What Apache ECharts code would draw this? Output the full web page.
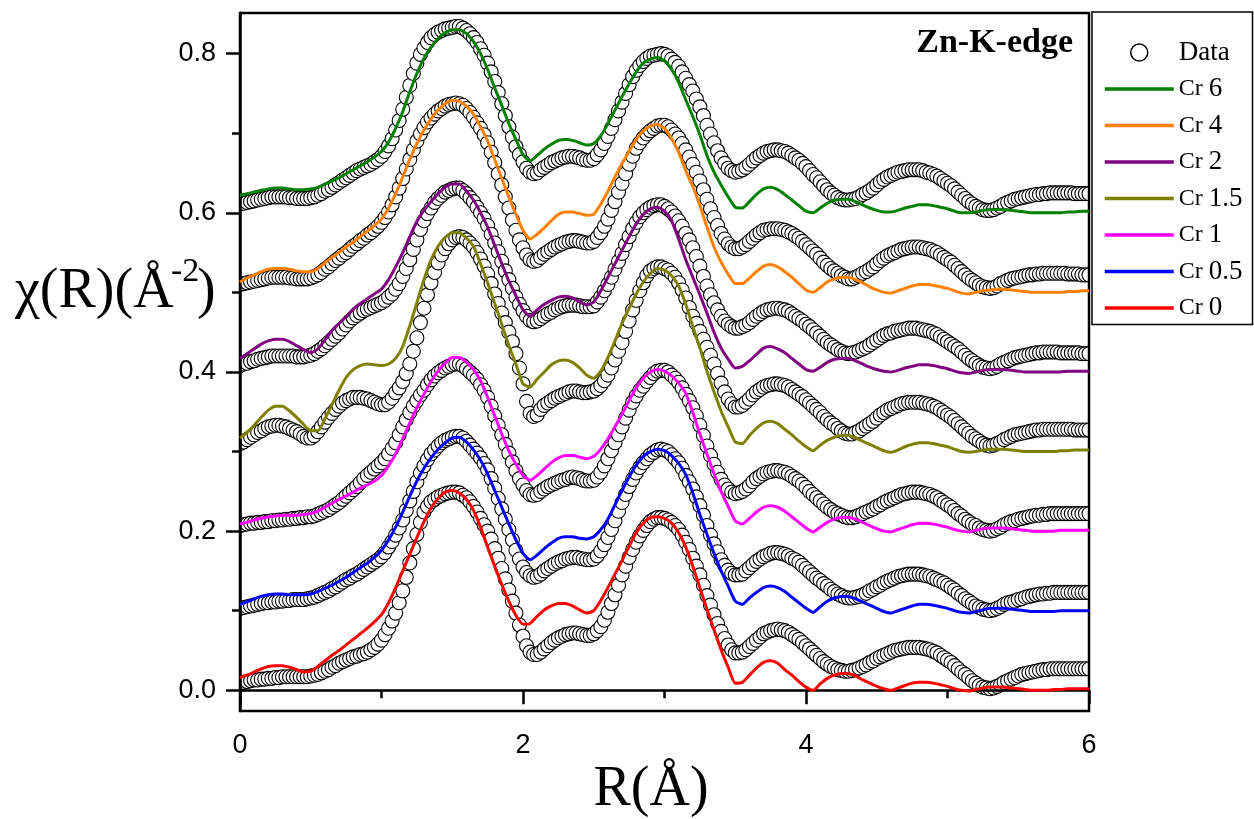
<!DOCTYPE html>
<html>
<head>
<meta charset="utf-8">
<script src="https://cdn.jsdelivr.net/npm/echarts@6/dist/echarts.min.js"></script>
<style>
  html, body { margin: 0; padding: 0; background: #fff; }
  #chart { width: 1254px; height: 819px; }
</style>
</head>
<body>
<div id="chart"></div>
<script>
// R grid of the measured points (Å)
const Rdata = [
  0,0.025,0.05,0.075,0.1,0.125,0.15,0.175,0.2,0.225,0.25,0.275,0.3,0.325,0.35,0.375,0.4,0.425,0.45,0.475,
  0.5,0.525,0.55,0.575,0.6,0.625,0.65,0.675,0.7,0.725,0.75,0.775,0.8,0.825,0.85,0.875,0.9,0.925,0.95,0.975,
  1,1.025,1.05,1.075,1.1,1.125,1.15,1.175,1.2,1.225,1.25,1.275,1.3,1.325,1.35,1.375,1.4,1.425,1.45,1.475,
  1.5,1.525,1.55,1.575,1.6,1.625,1.65,1.675,1.7,1.725,1.75,1.775,1.8,1.825,1.85,1.875,1.9,1.925,1.95,1.975,
  2,2.025,2.05,2.075,2.1,2.125,2.15,2.175,2.2,2.225,2.25,2.275,2.3,2.325,2.35,2.375,2.4,2.425,2.45,2.475,
  2.5,2.525,2.55,2.575,2.6,2.625,2.65,2.675,2.7,2.725,2.75,2.775,2.8,2.825,2.85,2.875,2.9,2.925,2.95,2.975,
  3,3.025,3.05,3.075,3.1,3.125,3.15,3.175,3.2,3.225,3.25,3.275,3.3,3.325,3.35,3.375,3.4,3.425,3.45,3.475,
  3.5,3.525,3.55,3.575,3.6,3.625,3.65,3.675,3.7,3.725,3.75,3.775,3.8,3.825,3.85,3.875,3.9,3.925,3.95,3.975,
  4,4.025,4.05,4.075,4.1,4.125,4.15,4.175,4.2,4.225,4.25,4.275,4.3,4.325,4.35,4.375,4.4,4.425,4.45,4.475,
  4.5,4.525,4.55,4.575,4.6,4.625,4.65,4.675,4.7,4.725,4.75,4.775,4.8,4.825,4.85,4.875,4.9,4.925,4.95,4.975,
  5,5.025,5.05,5.075,5.1,5.125,5.15,5.175,5.2,5.225,5.25,5.275,5.3,5.325,5.35,5.375,5.4,5.425,5.45,5.475,
  5.5,5.525,5.55,5.575,5.6,5.625,5.65,5.675,5.7,5.725,5.75,5.775,5.8,5.825,5.85,5.875,5.9,5.925,5.95,5.975,
  6
];
// R grid of the fit curves (Å)
const Rfit = [
  0,0.05,0.1,0.15,0.2,0.25,0.3,0.35,0.4,0.45,0.5,0.55,0.6,0.65,0.7,0.75,0.8,0.85,0.9,0.95,
  1,1.05,1.1,1.15,1.2,1.25,1.3,1.35,1.4,1.45,1.5,1.55,1.6,1.65,1.7,1.75,1.8,1.85,1.9,1.95,
  2,2.05,2.1,2.15,2.2,2.25,2.3,2.35,2.4,2.45,2.5,2.55,2.6,2.65,2.7,2.75,2.8,2.85,2.9,2.95,
  3,3.05,3.1,3.15,3.2,3.25,3.3,3.35,3.4,3.45,3.5,3.55,3.6,3.65,3.7,3.75,3.8,3.85,3.9,3.95,
  4,4.05,4.1,4.15,4.2,4.25,4.3,4.35,4.4,4.45,4.5,4.55,4.6,4.65,4.7,4.75,4.8,4.85,4.9,4.95,
  5,5.05,5.1,5.15,5.2,5.25,5.3,5.35,5.4,5.45,5.5,5.55,5.6,5.65,5.7,5.75,5.8,5.85,5.9,5.95,
  6
];

// measured data (open circles), stacked with offsets
const dataCr0 = [
  0.010,0.010,0.011,0.012,0.013,0.013,0.014,0.014,0.015,0.015,0.016,0.016,0.017,0.017,0.017,0.017,0.017,0.017,0.017,0.017,
  0.018,0.019,0.020,0.022,0.024,0.026,0.029,0.031,0.034,0.036,0.038,0.040,0.042,0.043,0.045,0.046,0.048,0.051,0.054,0.058,
  0.063,0.070,0.078,0.087,0.097,0.110,0.125,0.142,0.160,0.178,0.196,0.211,0.224,0.231,0.237,0.240,0.243,0.245,0.247,0.248,
  0.249,0.249,0.248,0.245,0.242,0.237,0.231,0.224,0.216,0.208,0.200,0.190,0.178,0.166,0.153,0.140,0.126,0.112,0.097,0.082,
  0.068,0.056,0.048,0.045,0.045,0.048,0.052,0.056,0.060,0.063,0.066,0.068,0.070,0.071,0.072,0.072,0.071,0.070,0.069,0.069,
  0.071,0.075,0.080,0.088,0.098,0.109,0.120,0.132,0.145,0.156,0.167,0.177,0.186,0.194,0.201,0.207,0.212,0.215,0.217,0.217,
  0.216,0.214,0.211,0.207,0.202,0.195,0.186,0.177,0.166,0.156,0.145,0.132,0.119,0.107,0.095,0.084,0.074,0.065,0.057,0.051,
  0.047,0.047,0.048,0.051,0.055,0.059,0.063,0.067,0.071,0.073,0.075,0.076,0.077,0.076,0.075,0.073,0.070,0.067,0.064,0.060,
  0.056,0.052,0.048,0.044,0.040,0.036,0.033,0.030,0.028,0.026,0.025,0.024,0.024,0.025,0.026,0.028,0.030,0.032,0.035,0.037,
  0.040,0.042,0.044,0.046,0.048,0.050,0.051,0.052,0.053,0.054,0.054,0.054,0.054,0.053,0.052,0.051,0.049,0.047,0.044,0.041,
  0.038,0.035,0.031,0.027,0.023,0.020,0.016,0.012,0.009,0.006,0.004,0.003,0.002,0.003,0.005,0.007,0.010,0.012,0.014,0.016,
  0.018,0.020,0.021,0.022,0.023,0.024,0.025,0.026,0.026,0.027,0.027,0.027,0.027,0.027,0.027,0.027,0.027,0.027,0.027,0.027,
  0.027
];
const dataCr05 = [
  0.103,0.104,0.105,0.106,0.107,0.108,0.109,0.110,0.110,0.111,0.111,0.112,0.112,0.113,0.113,0.114,0.114,0.114,0.114,0.115,
  0.116,0.117,0.119,0.121,0.123,0.125,0.128,0.130,0.133,0.136,0.139,0.141,0.144,0.146,0.149,0.152,0.155,0.158,0.161,0.164,
  0.168,0.173,0.180,0.187,0.195,0.204,0.214,0.226,0.238,0.250,0.262,0.273,0.282,0.290,0.297,0.302,0.307,0.311,0.314,0.316,
  0.318,0.319,0.319,0.317,0.313,0.308,0.303,0.298,0.292,0.285,0.277,0.266,0.254,0.241,0.228,0.215,0.202,0.189,0.176,0.165,
  0.155,0.148,0.144,0.142,0.143,0.146,0.150,0.153,0.156,0.159,0.161,0.163,0.165,0.166,0.167,0.167,0.166,0.165,0.164,0.164,
  0.165,0.169,0.175,0.183,0.192,0.202,0.213,0.225,0.236,0.246,0.256,0.265,0.273,0.280,0.286,0.291,0.296,0.299,0.302,0.303,
  0.302,0.300,0.296,0.291,0.286,0.279,0.270,0.262,0.253,0.243,0.232,0.220,0.207,0.195,0.184,0.174,0.164,0.157,0.151,0.147,
  0.145,0.145,0.146,0.150,0.154,0.158,0.162,0.165,0.168,0.170,0.172,0.173,0.173,0.172,0.171,0.169,0.166,0.164,0.161,0.157,
  0.153,0.149,0.145,0.141,0.138,0.134,0.131,0.127,0.124,0.121,0.119,0.117,0.116,0.116,0.117,0.118,0.120,0.122,0.125,0.127,
  0.130,0.132,0.135,0.137,0.139,0.141,0.143,0.144,0.145,0.146,0.146,0.146,0.146,0.145,0.144,0.143,0.141,0.139,0.137,0.135,
  0.132,0.129,0.126,0.122,0.119,0.115,0.112,0.109,0.106,0.104,0.102,0.101,0.100,0.101,0.103,0.105,0.108,0.110,0.111,0.112,
  0.114,0.115,0.117,0.118,0.119,0.120,0.121,0.121,0.122,0.122,0.123,0.123,0.123,0.123,0.123,0.123,0.123,0.123,0.123,0.123,
  0.123
];
const dataCr1 = [
  0.207,0.208,0.209,0.210,0.210,0.211,0.211,0.212,0.212,0.213,0.213,0.214,0.214,0.215,0.215,0.216,0.216,0.217,0.217,0.218,
  0.218,0.219,0.221,0.223,0.225,0.227,0.230,0.233,0.236,0.240,0.244,0.248,0.252,0.256,0.261,0.266,0.270,0.274,0.278,0.282,
  0.286,0.291,0.297,0.304,0.311,0.321,0.331,0.340,0.349,0.357,0.364,0.371,0.377,0.384,0.390,0.395,0.399,0.402,0.405,0.407,
  0.409,0.410,0.410,0.408,0.404,0.400,0.396,0.391,0.384,0.377,0.368,0.357,0.345,0.333,0.321,0.309,0.298,0.287,0.276,0.266,
  0.258,0.251,0.246,0.245,0.246,0.250,0.253,0.256,0.258,0.260,0.262,0.264,0.265,0.267,0.268,0.267,0.266,0.264,0.263,0.263,
  0.264,0.268,0.274,0.282,0.291,0.301,0.311,0.321,0.331,0.342,0.352,0.362,0.370,0.377,0.382,0.388,0.393,0.398,0.401,0.402,
  0.402,0.400,0.396,0.392,0.387,0.380,0.372,0.364,0.355,0.345,0.333,0.320,0.307,0.295,0.284,0.274,0.265,0.258,0.253,0.249,
  0.247,0.248,0.250,0.253,0.257,0.262,0.266,0.269,0.272,0.274,0.275,0.276,0.276,0.275,0.274,0.272,0.269,0.266,0.263,0.259,
  0.255,0.250,0.246,0.242,0.238,0.234,0.230,0.227,0.224,0.222,0.220,0.218,0.217,0.217,0.218,0.220,0.222,0.224,0.226,0.228,
  0.231,0.233,0.236,0.238,0.240,0.242,0.244,0.246,0.247,0.248,0.249,0.249,0.249,0.248,0.247,0.246,0.244,0.242,0.239,0.236,
  0.233,0.230,0.226,0.222,0.219,0.215,0.212,0.209,0.207,0.204,0.202,0.201,0.200,0.201,0.203,0.205,0.208,0.210,0.212,0.213,
  0.215,0.216,0.217,0.218,0.219,0.220,0.220,0.221,0.221,0.222,0.222,0.222,0.222,0.222,0.222,0.222,0.222,0.222,0.222,0.222,
  0.222
];
const dataCr15 = [
  0.310,0.312,0.315,0.318,0.321,0.324,0.326,0.329,0.331,0.332,0.333,0.333,0.332,0.331,0.329,0.327,0.325,0.322,0.319,0.317,
  0.317,0.320,0.325,0.331,0.337,0.343,0.348,0.353,0.357,0.361,0.364,0.366,0.368,0.368,0.368,0.367,0.366,0.364,0.362,0.360,
  0.359,0.359,0.362,0.367,0.374,0.380,0.388,0.398,0.410,0.426,0.443,0.462,0.480,0.497,0.512,0.525,0.537,0.547,0.555,0.561,
  0.566,0.569,0.570,0.569,0.566,0.562,0.557,0.550,0.542,0.533,0.523,0.511,0.498,0.486,0.474,0.462,0.450,0.438,0.423,0.405,
  0.385,0.363,0.348,0.344,0.346,0.353,0.358,0.361,0.364,0.367,0.369,0.371,0.373,0.375,0.376,0.376,0.375,0.374,0.374,0.375,
  0.376,0.379,0.383,0.389,0.396,0.405,0.415,0.426,0.437,0.451,0.464,0.478,0.490,0.502,0.512,0.521,0.527,0.530,0.532,0.532,
  0.530,0.528,0.524,0.519,0.512,0.503,0.493,0.481,0.470,0.461,0.451,0.441,0.431,0.421,0.410,0.398,0.386,0.375,0.366,0.360,
  0.356,0.356,0.358,0.362,0.366,0.371,0.375,0.378,0.381,0.383,0.384,0.385,0.385,0.384,0.383,0.381,0.378,0.375,0.372,0.369,
  0.365,0.361,0.357,0.353,0.349,0.344,0.340,0.336,0.333,0.329,0.326,0.323,0.322,0.322,0.324,0.326,0.329,0.332,0.335,0.338,
  0.342,0.346,0.349,0.352,0.354,0.356,0.358,0.360,0.361,0.362,0.362,0.362,0.362,0.361,0.360,0.359,0.357,0.355,0.352,0.349,
  0.346,0.343,0.339,0.335,0.331,0.327,0.323,0.319,0.316,0.313,0.310,0.308,0.307,0.308,0.310,0.312,0.315,0.317,0.319,0.321,
  0.322,0.323,0.324,0.325,0.326,0.327,0.327,0.328,0.328,0.328,0.328,0.328,0.328,0.328,0.328,0.328,0.327,0.327,0.327,0.327,
  0.327
];
const dataCr2 = [
  0.408,0.410,0.411,0.413,0.414,0.416,0.417,0.418,0.419,0.420,0.420,0.420,0.420,0.420,0.420,0.420,0.419,0.419,0.419,0.420,
  0.421,0.423,0.426,0.429,0.433,0.437,0.441,0.445,0.449,0.454,0.459,0.464,0.468,0.471,0.474,0.477,0.479,0.481,0.483,0.485,
  0.487,0.490,0.494,0.498,0.504,0.511,0.520,0.530,0.541,0.554,0.566,0.579,0.590,0.599,0.606,0.613,0.618,0.622,0.626,0.628,
  0.630,0.631,0.631,0.628,0.624,0.619,0.614,0.607,0.600,0.593,0.584,0.573,0.562,0.551,0.539,0.527,0.516,0.505,0.494,0.485,
  0.477,0.470,0.465,0.463,0.464,0.467,0.470,0.473,0.475,0.478,0.480,0.482,0.483,0.484,0.484,0.484,0.483,0.482,0.482,0.482,
  0.483,0.488,0.494,0.502,0.510,0.519,0.529,0.539,0.549,0.560,0.570,0.580,0.588,0.595,0.600,0.604,0.607,0.609,0.610,0.610,
  0.608,0.605,0.601,0.596,0.590,0.583,0.574,0.566,0.556,0.545,0.533,0.520,0.508,0.497,0.487,0.478,0.470,0.464,0.460,0.457,
  0.455,0.455,0.457,0.459,0.462,0.466,0.470,0.473,0.476,0.478,0.479,0.480,0.480,0.479,0.478,0.476,0.473,0.470,0.467,0.464,
  0.460,0.457,0.453,0.449,0.445,0.441,0.437,0.434,0.431,0.428,0.426,0.424,0.423,0.424,0.425,0.427,0.429,0.431,0.434,0.437,
  0.440,0.443,0.446,0.448,0.449,0.451,0.452,0.453,0.454,0.455,0.455,0.455,0.454,0.453,0.452,0.451,0.449,0.447,0.444,0.441,
  0.438,0.435,0.432,0.429,0.425,0.421,0.417,0.414,0.411,0.408,0.406,0.405,0.404,0.405,0.407,0.410,0.412,0.414,0.416,0.418,
  0.419,0.420,0.421,0.422,0.423,0.424,0.424,0.425,0.425,0.425,0.425,0.425,0.424,0.424,0.424,0.424,0.424,0.424,0.423,0.423,
  0.423
];
const dataCr4 = [
  0.510,0.511,0.512,0.513,0.514,0.515,0.516,0.517,0.518,0.519,0.519,0.519,0.519,0.519,0.518,0.518,0.517,0.517,0.517,0.517,
  0.518,0.520,0.522,0.525,0.529,0.532,0.536,0.540,0.543,0.547,0.550,0.554,0.558,0.561,0.565,0.568,0.572,0.575,0.579,0.583,
  0.588,0.594,0.601,0.610,0.620,0.631,0.643,0.655,0.667,0.679,0.690,0.699,0.707,0.714,0.719,0.724,0.728,0.731,0.734,0.736,
  0.737,0.738,0.737,0.735,0.731,0.726,0.720,0.713,0.706,0.698,0.688,0.676,0.663,0.649,0.635,0.620,0.606,0.591,0.578,0.566,
  0.556,0.547,0.541,0.539,0.540,0.544,0.548,0.551,0.554,0.557,0.559,0.561,0.563,0.564,0.565,0.565,0.564,0.563,0.562,0.562,
  0.564,0.569,0.575,0.583,0.592,0.603,0.614,0.626,0.637,0.649,0.661,0.671,0.681,0.688,0.694,0.699,0.703,0.706,0.709,0.710,
  0.710,0.708,0.704,0.699,0.694,0.687,0.679,0.670,0.661,0.651,0.640,0.629,0.617,0.605,0.594,0.584,0.574,0.567,0.561,0.557,
  0.555,0.555,0.557,0.560,0.564,0.568,0.572,0.575,0.578,0.579,0.580,0.580,0.580,0.579,0.578,0.576,0.574,0.571,0.568,0.564,
  0.560,0.556,0.552,0.548,0.543,0.538,0.534,0.530,0.527,0.524,0.521,0.519,0.517,0.517,0.519,0.521,0.524,0.526,0.529,0.532,
  0.536,0.540,0.543,0.546,0.548,0.550,0.552,0.554,0.555,0.556,0.557,0.557,0.557,0.556,0.555,0.554,0.552,0.550,0.547,0.544,
  0.541,0.538,0.534,0.530,0.526,0.522,0.518,0.515,0.512,0.509,0.507,0.506,0.505,0.506,0.508,0.511,0.513,0.515,0.517,0.518,
  0.519,0.520,0.521,0.522,0.522,0.523,0.523,0.524,0.524,0.524,0.524,0.524,0.524,0.524,0.523,0.523,0.523,0.523,0.522,0.522,
  0.522
];
const dataCr6 = [
  0.611,0.612,0.613,0.614,0.615,0.616,0.617,0.618,0.619,0.620,0.620,0.620,0.620,0.620,0.619,0.619,0.618,0.618,0.618,0.618,
  0.619,0.620,0.622,0.624,0.627,0.629,0.632,0.635,0.638,0.641,0.644,0.647,0.650,0.653,0.655,0.657,0.659,0.661,0.664,0.667,
  0.671,0.677,0.684,0.693,0.704,0.716,0.730,0.745,0.760,0.775,0.788,0.799,0.807,0.814,0.820,0.824,0.827,0.829,0.831,0.832,
  0.833,0.834,0.834,0.832,0.829,0.825,0.820,0.814,0.806,0.798,0.788,0.777,0.765,0.751,0.737,0.722,0.708,0.695,0.683,0.673,
  0.664,0.656,0.651,0.649,0.650,0.654,0.657,0.660,0.663,0.665,0.667,0.669,0.670,0.671,0.671,0.670,0.669,0.667,0.666,0.666,
  0.668,0.673,0.679,0.687,0.696,0.706,0.717,0.728,0.739,0.750,0.761,0.771,0.779,0.785,0.790,0.794,0.797,0.798,0.799,0.800,
  0.799,0.797,0.793,0.789,0.784,0.777,0.769,0.761,0.753,0.743,0.733,0.722,0.710,0.699,0.688,0.678,0.669,0.662,0.656,0.653,
  0.651,0.652,0.654,0.657,0.661,0.665,0.669,0.672,0.675,0.677,0.678,0.679,0.679,0.678,0.677,0.675,0.672,0.669,0.666,0.662,
  0.658,0.653,0.648,0.644,0.639,0.634,0.629,0.625,0.622,0.619,0.617,0.616,0.616,0.617,0.618,0.620,0.623,0.625,0.628,0.631,
  0.635,0.639,0.642,0.645,0.647,0.649,0.651,0.652,0.653,0.654,0.654,0.654,0.654,0.653,0.651,0.650,0.648,0.646,0.643,0.640,
  0.637,0.634,0.630,0.626,0.622,0.618,0.614,0.611,0.608,0.606,0.604,0.603,0.603,0.604,0.606,0.608,0.611,0.613,0.615,0.617,
  0.618,0.619,0.620,0.621,0.622,0.623,0.623,0.624,0.624,0.625,0.625,0.625,0.625,0.625,0.625,0.625,0.624,0.624,0.624,0.624,
  0.624
];

// fits (solid lines)
const fitCr0 = [
  0.016,0.019,0.023,0.027,0.030,0.031,0.031,0.029,0.026,0.023,0.024,0.030,0.037,0.044,0.050,0.057,0.064,0.071,0.078,0.086,
  0.095,0.110,0.129,0.150,0.171,0.192,0.212,0.229,0.241,0.249,0.251,0.248,0.240,0.226,0.205,0.180,0.156,0.133,0.112,0.094,
  0.083,0.084,0.093,0.101,0.106,0.109,0.109,0.106,0.101,0.097,0.100,0.113,0.129,0.146,0.163,0.181,0.198,0.210,0.217,0.218,
  0.216,0.210,0.198,0.180,0.156,0.129,0.102,0.076,0.051,0.029,0.009,0.010,0.019,0.028,0.035,0.037,0.034,0.026,0.019,0.011,
  0.004,0.000,0.008,0.015,0.019,0.021,0.021,0.018,0.013,0.009,0.005,0.002,0.000,0.003,0.006,0.009,0.010,0.010,0.009,0.007,
  0.005,0.002,0.000,-0.001,0.001,0.003,0.004,0.004,0.004,0.003,0.002,0.001,0.000,0.000,0.000,0.001,0.001,0.002,0.002,0.002,
  0.002
];
const fitCr05 = [
  0.108,0.111,0.115,0.118,0.120,0.121,0.121,0.120,0.120,0.120,0.121,0.124,0.128,0.132,0.137,0.142,0.148,0.154,0.160,0.167,
  0.176,0.189,0.205,0.224,0.244,0.263,0.279,0.292,0.303,0.311,0.317,0.318,0.312,0.302,0.289,0.272,0.251,0.230,0.209,0.189,
  0.172,0.164,0.170,0.178,0.185,0.191,0.193,0.193,0.191,0.190,0.193,0.202,0.215,0.233,0.251,0.268,0.283,0.294,0.300,0.303,
  0.301,0.295,0.285,0.271,0.248,0.221,0.196,0.172,0.150,0.131,0.112,0.108,0.116,0.123,0.129,0.131,0.129,0.124,0.117,0.110,
  0.103,0.098,0.105,0.112,0.116,0.118,0.118,0.115,0.111,0.107,0.103,0.099,0.097,0.100,0.103,0.106,0.108,0.108,0.107,0.105,
  0.103,0.100,0.098,0.097,0.099,0.101,0.103,0.103,0.103,0.102,0.101,0.100,0.099,0.099,0.099,0.099,0.100,0.100,0.100,0.100,
  0.100
];
const fitCr1 = [
  0.209,0.211,0.214,0.216,0.218,0.219,0.220,0.220,0.220,0.221,0.222,0.225,0.230,0.235,0.240,0.244,0.249,0.254,0.258,0.263,
  0.270,0.282,0.297,0.316,0.336,0.355,0.372,0.388,0.401,0.411,0.418,0.418,0.412,0.403,0.389,0.368,0.345,0.322,0.301,0.284,
  0.270,0.264,0.270,0.278,0.286,0.292,0.295,0.295,0.293,0.291,0.294,0.303,0.316,0.331,0.347,0.364,0.380,0.392,0.400,0.403,
  0.401,0.395,0.386,0.373,0.349,0.322,0.297,0.272,0.250,0.231,0.213,0.209,0.216,0.224,0.230,0.232,0.230,0.225,0.218,0.211,
  0.204,0.199,0.205,0.211,0.215,0.217,0.217,0.215,0.211,0.207,0.203,0.200,0.199,0.202,0.205,0.208,0.210,0.210,0.209,0.207,
  0.205,0.202,0.200,0.199,0.201,0.203,0.204,0.204,0.204,0.203,0.202,0.201,0.200,0.200,0.200,0.200,0.201,0.201,0.201,0.201,
  0.201
];
const fitCr15 = [
  0.317,0.324,0.333,0.343,0.352,0.357,0.357,0.351,0.343,0.334,0.326,0.326,0.341,0.359,0.377,0.393,0.403,0.408,0.410,0.409,
  0.408,0.410,0.417,0.432,0.458,0.487,0.516,0.541,0.558,0.569,0.575,0.575,0.568,0.558,0.536,0.512,0.486,0.460,0.433,0.410,
  0.385,0.381,0.391,0.400,0.409,0.414,0.415,0.412,0.405,0.396,0.392,0.401,0.418,0.439,0.461,0.480,0.498,0.513,0.524,0.530,
  0.528,0.521,0.508,0.485,0.457,0.430,0.401,0.375,0.351,0.331,0.312,0.310,0.320,0.329,0.336,0.338,0.335,0.328,0.321,0.313,
  0.306,0.301,0.308,0.314,0.318,0.320,0.320,0.317,0.313,0.309,0.305,0.301,0.299,0.302,0.306,0.309,0.311,0.311,0.310,0.308,
  0.306,0.303,0.300,0.299,0.300,0.302,0.303,0.303,0.303,0.302,0.301,0.300,0.300,0.300,0.300,0.300,0.301,0.301,0.302,0.302,
  0.302
];
const fitCr2 = [
  0.417,0.423,0.429,0.435,0.439,0.441,0.441,0.438,0.433,0.428,0.424,0.429,0.440,0.452,0.461,0.469,0.479,0.486,0.492,0.498,
  0.504,0.516,0.532,0.550,0.570,0.589,0.603,0.614,0.624,0.632,0.636,0.636,0.627,0.616,0.600,0.582,0.559,0.536,0.514,0.496,
  0.478,0.470,0.478,0.485,0.490,0.494,0.495,0.493,0.488,0.484,0.488,0.502,0.519,0.536,0.553,0.570,0.586,0.598,0.605,0.607,
  0.602,0.590,0.567,0.541,0.519,0.497,0.474,0.450,0.430,0.416,0.405,0.407,0.414,0.422,0.430,0.432,0.429,0.424,0.417,0.410,
  0.403,0.401,0.406,0.412,0.416,0.417,0.417,0.414,0.410,0.406,0.403,0.401,0.400,0.402,0.405,0.407,0.409,0.409,0.408,0.406,
  0.404,0.401,0.399,0.398,0.400,0.402,0.403,0.403,0.403,0.402,0.401,0.400,0.400,0.400,0.400,0.400,0.400,0.401,0.401,0.401,
  0.401
];
const fitCr4 = [
  0.513,0.518,0.522,0.526,0.529,0.530,0.530,0.529,0.527,0.526,0.526,0.530,0.537,0.544,0.550,0.557,0.563,0.570,0.577,0.584,
  0.592,0.606,0.624,0.645,0.667,0.687,0.704,0.718,0.729,0.737,0.741,0.740,0.734,0.724,0.708,0.690,0.667,0.643,0.620,0.598,
  0.578,0.567,0.573,0.581,0.590,0.598,0.601,0.601,0.599,0.597,0.598,0.611,0.627,0.645,0.662,0.677,0.692,0.703,0.709,0.711,
  0.706,0.693,0.676,0.653,0.633,0.609,0.582,0.557,0.538,0.523,0.511,0.511,0.518,0.526,0.533,0.535,0.532,0.526,0.519,0.511,
  0.503,0.500,0.506,0.513,0.517,0.519,0.519,0.516,0.512,0.507,0.503,0.500,0.499,0.502,0.505,0.508,0.510,0.510,0.509,0.507,
  0.505,0.502,0.499,0.498,0.500,0.502,0.503,0.504,0.504,0.503,0.502,0.501,0.500,0.500,0.500,0.500,0.500,0.501,0.501,0.502,
  0.502
];
const fitCr6 = [
  0.622,0.624,0.626,0.628,0.630,0.631,0.631,0.630,0.629,0.629,0.630,0.632,0.636,0.640,0.644,0.649,0.654,0.659,0.664,0.670,
  0.677,0.689,0.706,0.727,0.752,0.775,0.794,0.808,0.819,0.826,0.830,0.830,0.825,0.815,0.800,0.780,0.757,0.735,0.712,0.692,
  0.673,0.665,0.672,0.680,0.686,0.691,0.692,0.691,0.688,0.685,0.687,0.697,0.712,0.729,0.746,0.762,0.777,0.788,0.793,0.795,
  0.791,0.780,0.764,0.742,0.721,0.698,0.672,0.651,0.635,0.620,0.607,0.606,0.614,0.623,0.630,0.632,0.629,0.623,0.616,0.609,
  0.602,0.600,0.606,0.612,0.616,0.617,0.617,0.614,0.610,0.606,0.603,0.601,0.601,0.603,0.606,0.608,0.610,0.610,0.609,0.607,
  0.605,0.602,0.600,0.600,0.601,0.603,0.604,0.604,0.604,0.603,0.602,0.601,0.600,0.600,0.600,0.600,0.600,0.601,0.601,0.602,
  0.602
];

const fitNames = ['Cr 6', 'Cr 4', 'Cr 2', 'Cr 1.5', 'Cr 1', 'Cr 0.5', 'Cr 0'];
const fitColors = ['#008000', '#ff8000', '#800080', '#808000', '#ff00ff', '#0000ff', '#ff0000'];
const fitValues = [fitCr6, fitCr4, fitCr2, fitCr15, fitCr1, fitCr05, fitCr0];
const dataValues = [dataCr6, dataCr4, dataCr2, dataCr15, dataCr1, dataCr05, dataCr0];
const yMajor = [0, 0.2, 0.4, 0.6, 0.8];
const yMinor = [0.1, 0.3, 0.5, 0.7];

const serif = '"Liberation Serif", "Times New Roman", serif';
const sans = '"Liberation Sans", Arial, sans-serif';
const pts = (xs, ys) => xs.map((r, i) => [r, ys[i]]);

const chart = echarts.init(document.getElementById('chart'));

const dataSeries = dataValues.map(d => ({
  type: 'scatter',
  name: 'Data',
  data: pts(Rdata, d),
  symbol: 'circle',
  symbolSize: 14,
  itemStyle: { color: '#fff', borderColor: '#000', borderWidth: 1.1, opacity: 1 },
  silent: true
}));

const fitSeries = fitValues.map((f, k) => ({
  type: 'line',
  name: fitNames[k],
  data: pts(Rfit, f),
  symbol: 'none',
  smooth: 0.2,
  lineStyle: { color: fitColors[k], width: 3 },
  itemStyle: { color: fitColors[k] },
  silent: true
}));

const axisLine = { show: true, lineStyle: { color: '#000', width: 2.5 } };

chart.setOption({
  animation: false,
  backgroundColor: '#fff',
  grid: {
    left: 240, right: 165, top: 13, bottom: 108,
    show: true, borderColor: '#000', borderWidth: 2.5, z: 3
  },
  xAxis: {
    type: 'value', min: 0, max: 6, interval: 2, z: 3,
    axisLine: axisLine,
    axisTick: { show: true, inside: false, length: 14, lineStyle: { color: '#000', width: 2.5 } },
    minorTick: { show: true, splitNumber: 2, length: 8, lineStyle: { color: '#000', width: 2.5 } },
    splitLine: { show: false },
    axisLabel: { fontFamily: sans, fontSize: 27, color: '#000', margin: 21 }
  },
  yAxis: [
    {
      type: 'value', min: -0.026, max: 0.851, z: 3,
      axisLine: axisLine,
      axisTick: { show: true, inside: false, length: 14, customValues: yMajor, lineStyle: { color: '#000', width: 2.5 } },
      splitLine: { show: false },
      axisLabel: { customValues: yMajor, formatter: v => v.toFixed(1), fontFamily: sans, fontSize: 27, color: '#000', margin: 24 }
    },
    {
      type: 'value', min: -0.026, max: 0.851, position: 'left', z: 3,
      axisLine: { show: false },
      axisTick: { show: true, inside: false, length: 8, customValues: yMinor, lineStyle: { color: '#000', width: 2.5 } },
      splitLine: { show: false },
      axisLabel: { show: false }
    }
  ],
  legend: {
    orient: 'vertical',
    left: 1092, top: 12,
    padding: [27, 10, 3, 11],
    itemWidth: 69, itemHeight: 17, itemGap: 9.5,
    borderColor: '#000', borderWidth: 1.5, backgroundColor: '#fff',
    selectedMode: false,
    lineStyle: { width: 3.5 },
    data: [{ name: 'Data', icon: 'circle', itemStyle: { color: '#fff', borderColor: '#000', borderWidth: 1.5 } }]
      .concat(fitNames.map(n => ({ name: n, itemStyle: { opacity: 0 } }))),
    formatter: name => name === 'Data' ? '{n|Data}' : '{c|Cr }{n|' + name.slice(3) + '}',
    textStyle: {
      color: '#000', fontFamily: serif, fontSize: 27,
      rich: {
        c: { fontFamily: serif, fontSize: 24, color: '#000' },
        n: { fontFamily: serif, fontSize: 27, color: '#000' }
      }
    }
  },
  graphic: [
    // white masks so circles at the plot edges look clipped by the frame
    { type: 'rect', z: 2.5, shape: { x: 218, y: 13, width: 21, height: 698 }, style: { fill: '#fff' } },
    { type: 'rect', z: 2.5, shape: { x: 1090, y: 13, width: 12, height: 698 }, style: { fill: '#fff' } },
    { type: 'text', x: 15, y: 292, style: { text: 'χ(R)(Å', font: '56px ' + serif, fill: '#000', textVerticalAlign: 'middle' } },
    { type: 'text', x: 171, y: 272, style: { text: '-2', font: '34px ' + serif, fill: '#000', textVerticalAlign: 'middle' } },
    { type: 'text', x: 197, y: 292, style: { text: ')', font: '56px ' + serif, fill: '#000', textVerticalAlign: 'middle' } },
    { type: 'text', x: 651, y: 790, style: { text: 'R(Å)', font: '56px ' + serif, fill: '#000', textAlign: 'center', textVerticalAlign: 'middle' } },
    { type: 'text', x: 1073, y: 43, style: { text: 'Zn-K-edge', font: 'bold 34px ' + serif, fill: '#000', textAlign: 'right', textVerticalAlign: 'middle' } }
  ],
  series: dataSeries.concat(fitSeries)
});
</script>
</body>
</html>
